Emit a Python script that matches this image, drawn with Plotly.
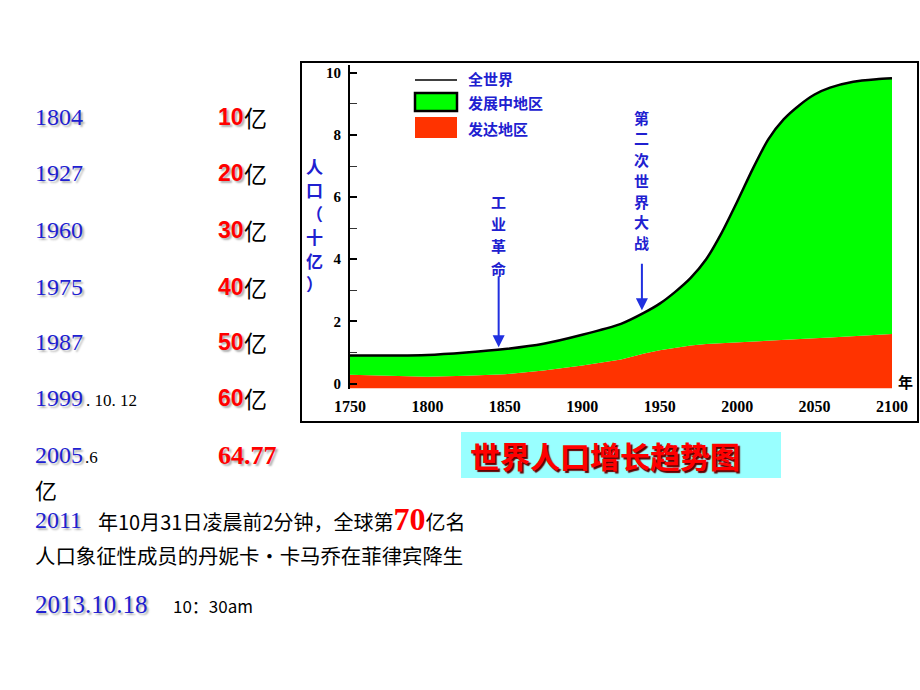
import plotly.graph_objects as go

# ---------------- data ----------------
years = [1750, 1775, 1800, 1825, 1850, 1875, 1900, 1925, 1940, 1950, 1960, 1970,
         1980, 1990, 2000, 2010, 2020, 2030, 2040, 2050, 2060, 2075, 2090, 2100]
world = [0.90, 0.90, 0.92, 1.00, 1.11, 1.28, 1.57, 1.92, 2.28, 2.57, 2.95, 3.40,
         4.00, 4.85, 5.85, 6.90, 7.85, 8.50, 8.95, 9.30, 9.52, 9.71, 9.79, 9.82]
developed = [0.28, 0.25, 0.22, 0.25, 0.30, 0.42, 0.58, 0.77, 0.97, 1.07, 1.15, 1.22,
             1.27, 1.30, 1.33, 1.35, 1.37, 1.40, 1.43, 1.46, 1.48, 1.52, 1.56, 1.59]
x_ticks = [1750, 1800, 1850, 1900, 1950, 2000, 2050, 2100]

milestone_years = ["1804", "1927", "1960", "1975", "1987", "1999"]
milestone_suffix = ["", "", "", "", "", ".10.12"]
milestone_values = ["10", "20", "30", "40", "50", "60"]

Y_MIN, Y_MAX = -0.16, 10.25

W, H = 920, 690
def px(x):
    return x / W
def py(y):
    return 1 - y / H

BLUE = "#2020d0"
RED = "#ff0000"
SHADOW = "2px 2px 2px #b0b0b0"

fig = go.Figure()
fig.add_trace(go.Scatter(x=years, y=[Y_MIN] * len(years), mode="lines",
                         line=dict(width=0), hoverinfo="skip", showlegend=False))
fig.add_trace(go.Scatter(x=years, y=developed, mode="lines", fill="tonexty",
                         fillcolor="#ff3300", line=dict(width=0, color="#ff3300"),
                         name="发达地区", showlegend=False))
fig.add_trace(go.Scatter(x=years, y=world, mode="lines", fill="tonexty",
                         fillcolor="#00ff00",
                         line=dict(width=2.5, color="black", shape="spline", smoothing=0.6),
                         name="全世界", showlegend=False))

fig.update_layout(
    template="none",
    width=W, height=H, margin=dict(l=0, r=0, t=0, b=0, pad=0, autoexpand=False),
    paper_bgcolor="white", plot_bgcolor="white", showlegend=False,
    xaxis=dict(domain=[350 / W, 892 / W], range=[1750, 2100], tickvals=x_ticks,
               automargin=False,
               showgrid=False, zeroline=False, showline=False, ticks="",
               ticklabelstandoff=6,
               tickfont=dict(family="Liberation Serif", size=16, color="black", weight="bold")),
    yaxis=dict(domain=[py(388.5), py(65)], range=[Y_MIN, Y_MAX], tick0=0, dtick=2,
               automargin=False,
               showgrid=False, zeroline=False, showline=True, linecolor="black",
               linewidth=2, ticks="inside", ticklen=7, tickwidth=1.5, tickcolor="black",
               minor=dict(dtick=1, ticks="inside", ticklen=7, tickwidth=1.2, tickcolor="#333"),
               ticklabelstandoff=4,
               tickfont=dict(family="Liberation Serif", size=15, color="black", weight="bold")),
)

shapes = []
shapes.append(dict(type="rect", xref="paper", yref="paper", x0=px(301), x1=px(918),
                   y0=py(422), y1=py(62), line=dict(color="black", width=2), layer="below"))
shapes.append(dict(type="rect", xref="paper", yref="paper", x0=px(461), x1=px(781),
                   y0=py(478), y1=py(432), fillcolor="#99ffff", line=dict(width=0), layer="below"))
shapes.append(dict(type="line", xref="paper", yref="paper", x0=px(415), x1=px(457),
                   y0=py(80), y1=py(80), line=dict(color="black", width=1.5)))
shapes.append(dict(type="rect", xref="paper", yref="paper", x0=px(415), x1=px(457),
                   y0=py(111), y1=py(93), fillcolor="#00ff00", line=dict(color="black", width=2.5)))
shapes.append(dict(type="rect", xref="paper", yref="paper", x0=px(415), x1=px(457),
                   y0=py(138), y1=py(117), fillcolor="#ff3300", line=dict(width=0)))
fig.update_layout(shapes=shapes)

ann = []
def text(x, y, t, size, color="black", family="Noto Sans CJK SC", bold=False,
         xanchor="left", shadow=None, xref="paper", yref="paper"):
    f = dict(family=family, size=size, color=color)
    if bold:
        f["weight"] = "bold"
    if shadow:
        f["shadow"] = shadow
    ann.append(dict(xref=xref, yref=yref,
                    x=px(x) if xref == "paper" else x,
                    y=py(y) if yref == "paper" else y,
                    text=t, showarrow=False, xanchor=xanchor, yanchor="middle",
                    align=xanchor if xanchor != "center" else "center",
                    borderpad=0, borderwidth=0, font=f))

legend_items = [("全世界", 78), ("发展中地区", 102), ("发达地区", 128)]
for label, yy in legend_items:
    text(468, yy, label, 15, BLUE, bold=True)

# y axis title, one character per line
title_chars = list("人口（十亿）")
for i, ch in enumerate(title_chars):
    text(314, 166 + i * 23.5, ch, 17, BLUE, bold=True, xanchor="center")
text(905, 382, "年", 15, "black", bold=True, xanchor="center")

# event arrows and vertical labels
events = [("工业革命", 1846, 1.17, 3.5, 201, 22.5),
          ("第二次世界大战", 1938.5, 2.36, 3.9, 117, 21)]
for (label, yr, tip, tail, y0, step) in events:
    ann.append(dict(x=yr, y=tip, ax=yr, ay=tail, xref="x", yref="y", axref="x", ayref="y",
                    text="", showarrow=True, arrowhead=2, arrowsize=1.2, arrowwidth=2,
                    arrowcolor="#2030e0"))
    for i, ch in enumerate(label):
        text(yr, y0 + i * step, ch, 15, BLUE, bold=True, xanchor="center", xref="x")

# title
text(470, 455, "世界人口增长趋势图", 30, RED, bold=True, xanchor="left",
     shadow="2px 2px 1px #600000")

# left milestone list
row_y = [117, 173, 230, 287, 342, 398]
for yr, suf, val, yy in zip(milestone_years, milestone_suffix, milestone_values, row_y):
    text(35, yy, yr, 24, BLUE, family="Liberation Serif", shadow=SHADOW)
    if suf:
        text(86, yy + 2, suf.replace(".", ". ").strip(), 17, "black", family="Liberation Serif")
    text(218, yy, f"<b>{val}</b>", 23, RED, family="Liberation Sans", shadow=SHADOW)
    text(244, yy, "亿", 23, "black", family="Noto Sans CJK SC")

text(35, 455, "2005", 24, BLUE, family="Liberation Serif", shadow=SHADOW)
text(85, 457, ".6", 17, "black", family="Liberation Serif")
text(218, 455, "<b>64.77</b>", 26, RED, family="Liberation Serif", shadow=SHADOW)
text(35, 489, "亿", 22, "black", family="Noto Sans CJK SC")
text(35, 520, "2011", 24, BLUE, family="Liberation Serif", shadow=SHADOW)
text(98, 519,
     f"年10月31日凌晨前2分钟，全球第"
     f"<span style='font-family:Liberation Serif;font-size:32px;color:{RED}'><b>70</b></span>亿名",
     20, "black", family="Noto Sans CJK SC")
text(35, 555, "人口象征性成员的丹妮卡·卡马乔在菲律宾降生", 20.4, "black",
     family="Noto Sans CJK SC")
text(35, 604, "2013.10.18", 25, BLUE, family="Liberation Serif", shadow=SHADOW)
text(173, 605, "10：30am", 17, "black", family="Noto Sans CJK SC")

fig.update_layout(annotations=ann)
fig.write_html("out.html")
